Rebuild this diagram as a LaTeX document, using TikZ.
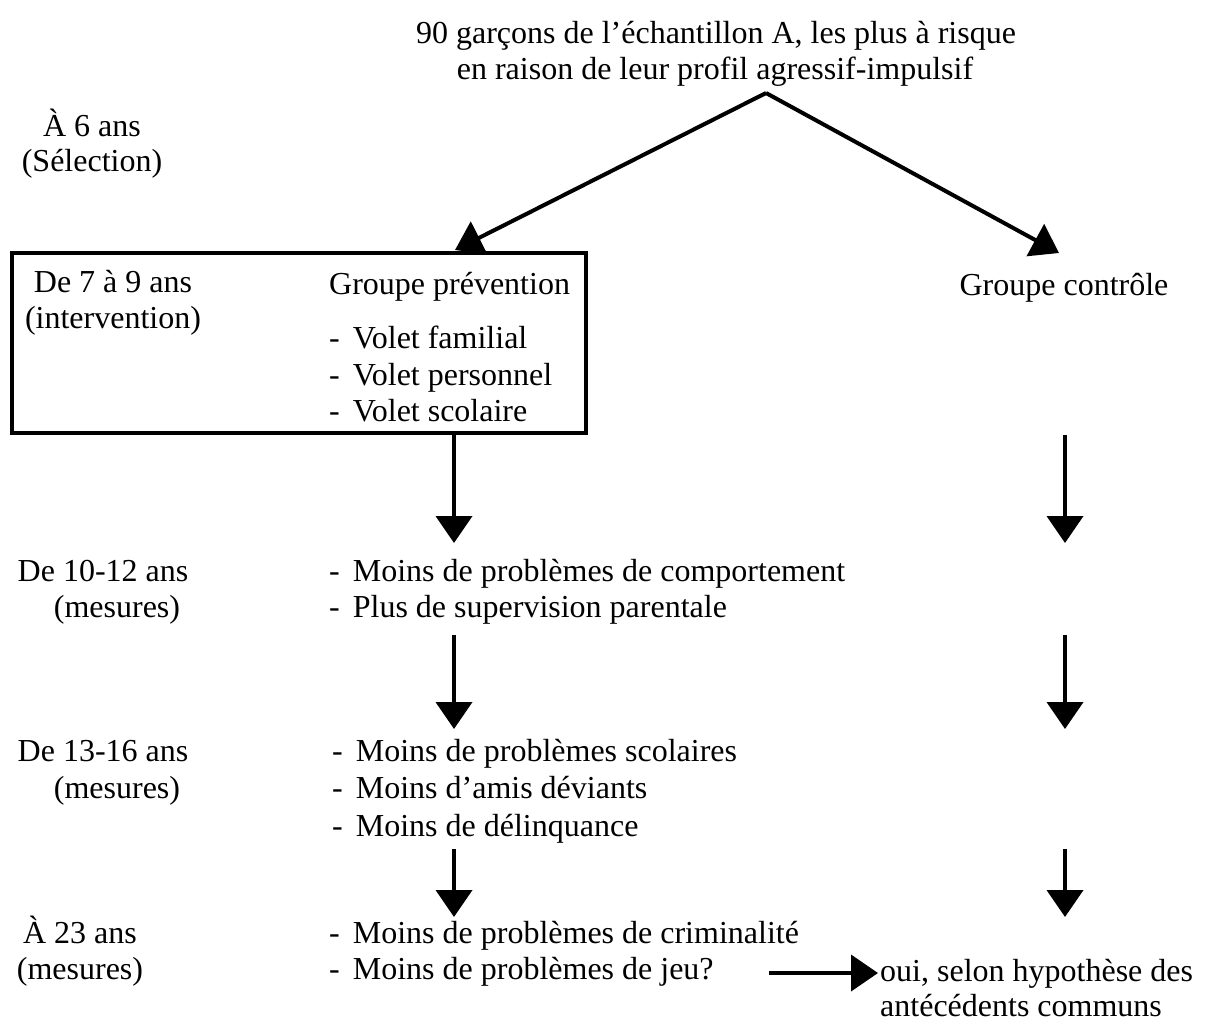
\documentclass[tikz,border=0pt]{standalone}
\usepackage{fontspec}
\setmainfont{Liberation Serif}
\usetikzlibrary{arrows.meta}
\begin{document}
\begin{tikzpicture}[x=1pt,y=-1pt,
  txt/.style={inner sep=0pt,font=\fontsize{32}{37}\selectfont},
  lft/.style={txt,anchor=mid west},
  ctr/.style={txt,anchor=mid},
  flow/.style={line width=4pt,-{Triangle[width=36pt,length=27pt]}},
  frame/.style={draw,line width=3.5pt}]
\useasboundingbox (0,0) rectangle (1217,1026);

% title
\node[ctr] (t1) at (716,41) {90 garçons de l’échantillon A, les plus à risque};
\node[ctr] (t2) at (715,77) {en raison de leur profil agressif-impulsif};
\coordinate (apex) at (766,93);

% ages
\node[ctr] (a1) at (92,134) {À 6 ans};
\node[ctr] (a1b) at (92,169) {(Sélection)};

% intervention box
\draw[frame] (12,253) rectangle (586,433);
\node[ctr] (a2) at (113,290) {De 7 à 9 ans};
\node[ctr] (a2b) at (113,326) {(intervention)};
\node[lft] (gp) at (329,292) {Groupe prévention};
\node[lft] (v1) at (329,346) {-\hspace{13pt}Volet familial};
\node[lft] (v2) at (329,383) {-\hspace{13pt}Volet personnel};
\node[lft] (v3) at (329,419) {-\hspace{13pt}Volet scolaire};
\node[ctr] (gc) at (1064,293) {Groupe contrôle};

\coordinate (lt) at (455,250);
\coordinate (rt) at (1059,253);
\draw[flow] (apex) -- (lt);
\draw[flow] (apex) -- (rt);

% 10-12
\node[ctr] (a3) at (103,579) {De 10-12 ans};
\node[ctr] (a3b) at (117,615) {(mesures)};
\node[lft] (m1) at (329,579) {-\hspace{13pt}Moins de problèmes de comportement};
\node[lft] (m2) at (329,615) {-\hspace{13pt}Plus de supervision parentale};

% 13-16
\node[ctr] (a4) at (103,759) {De 13-16 ans};
\node[ctr] (a4b) at (117,796) {(mesures)};
\node[lft] (s1) at (332,759) {-\hspace{13pt}Moins de problèmes scolaires};
\node[lft] (s2) at (332,796) {-\hspace{13pt}Moins d’amis déviants};
\node[lft] (s3) at (332,834) {-\hspace{13pt}Moins de délinquance};

% 23
\node[ctr] (a5) at (80,941) {À 23 ans};
\node[ctr] (a5b) at (80,977) {(mesures)};
\node[lft] (c1) at (329,941) {-\hspace{13pt}Moins de problèmes de criminalité};
\node[lft] (c2) at (329,977) {-\hspace{13pt}Moins de problèmes de jeu?};
\node[lft] (o1) at (880,979) {oui, selon hypothèse des};
\node[lft] (o2) at (880,1014) {antécédents communs};

% vertical connectors
\coordinate (l1s) at (454,433); \coordinate (l1e) at (454,543);
\coordinate (r1s) at (1065,435); \coordinate (r1e) at (1065,543);
\coordinate (l2s) at (454,635); \coordinate (l2e) at (454,729);
\coordinate (r2s) at (1065,635); \coordinate (r2e) at (1065,729);
\coordinate (l3s) at (454,849); \coordinate (l3e) at (454,917);
\coordinate (r3s) at (1065,849); \coordinate (r3e) at (1065,917);
\draw[flow] (l1s) -- (l1e);
\draw[flow] (r1s) -- (r1e);
\draw[flow] (l2s) -- (l2e);
\draw[flow] (r2s) -- (r2e);
\draw[flow] (l3s) -- (l3e);
\draw[flow] (r3s) -- (r3e);

\coordinate (hs) at (769,973);
\coordinate (he) at (878,973);
\draw[flow] (hs) -- (he);
\end{tikzpicture}
\end{document}
